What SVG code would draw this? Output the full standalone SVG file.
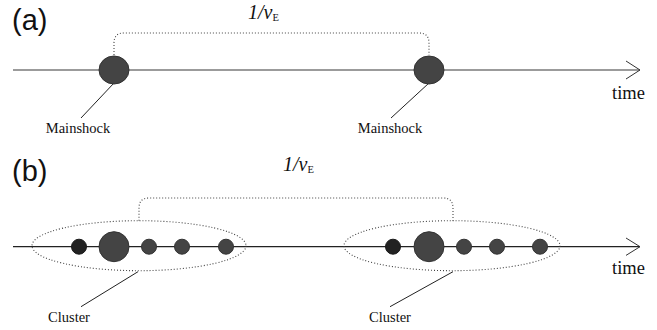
<svg xmlns="http://www.w3.org/2000/svg" width="657" height="330" viewBox="0 0 657 330">
  <style>
    .axis-a { stroke: #7a7a7a; stroke-width: 1.6; fill: none; }
    .axis-b { stroke: #222; stroke-width: 1.3; fill: none; }
    .head { stroke: #333; stroke-width: 1; fill: none; }
    .dots { stroke: #444; stroke-width: 1.1; stroke-dasharray: 1 2; fill: none; }
    .leader { stroke: #222; stroke-width: 1; fill: none; }
    .ev { fill: #444; stroke: #333; stroke-width: 1; }
    .ev-dark { fill: #222; stroke: #1a1a1a; stroke-width: 1; }
    .panel { font-family: "Liberation Sans", Arial, sans-serif; font-size: 29px; fill: #111; }
    .lbl { font-family: "Liberation Serif", "Times New Roman", serif; font-size: 14.5px; fill: #111; }
    .time { font-family: "Liberation Serif", "Times New Roman", serif; font-size: 18.5px; fill: #111; }
    .rate { font-family: "Liberation Serif", "Times New Roman", serif; font-size: 20px; font-style: italic; fill: #111; }
    .sub { font-size: 10.5px; font-style: normal; }
  </style>

  <!-- panel (a): isolated mainshocks -->
  <text class="panel" x="12" y="30">(a)</text>
  <g id="connectors">
    <line class="axis-a" x1="13" y1="70" x2="640" y2="70"/>
    <polyline class="head" points="626,61 640,70 626,79"/>
    <path class="dots" d="M114,55 V43 Q114,33 124,33 H419 Q429,33 429,43 V55"/>
    <line class="leader" x1="114" y1="83" x2="81" y2="118"/>
    <line class="leader" x1="429" y1="83" x2="391" y2="118"/>

    <line class="axis-b" x1="13" y1="246.7" x2="640" y2="246.7"/>
    <polyline class="head" points="626,238 640,246.7 626,255.4"/>
    <path class="dots" d="M139,220.7 V208 Q139,198 149,198 H443 Q453,198 453,208 V220.7"/>
    <line class="leader" x1="138" y1="271.7" x2="81" y2="306.7"/>
    <line class="leader" x1="453" y1="271.7" x2="390" y2="306.7"/>
  </g>
  <text class="rate" x="248" y="19">1/ν<tspan class="sub" dy="2">E</tspan></text>
  <text class="time" x="612" y="99">time</text>

  <g id="mainshock-1">
    <ellipse class="ev" cx="114" cy="70" rx="15" ry="14"/>
    <text class="lbl" x="78" y="133" text-anchor="middle">Mainshock</text>
  </g>
  <g id="mainshock-2">
    <ellipse class="ev" cx="429" cy="70" rx="15" ry="14"/>
    <text class="lbl" x="390" y="133" text-anchor="middle">Mainshock</text>
  </g>

  <!-- panel (b): clustered sequences -->
  <text class="panel" x="12" y="181">(b)</text>
  <text class="rate" x="283" y="171">1/ν<tspan class="sub" dy="2">E</tspan></text>
  <text class="time" x="612" y="274">time</text>

  <g id="cluster-1">
    <ellipse class="dots" cx="139" cy="245.7" rx="107" ry="25"/>
    <circle class="ev-dark" cx="79" cy="246.7" r="7.5"/>
    <circle class="ev" cx="114" cy="246.7" r="15"/>
    <circle class="ev" cx="149" cy="246.7" r="7.5"/>
    <circle class="ev" cx="182" cy="246.7" r="7.5"/>
    <circle class="ev" cx="226" cy="246.7" r="7.5"/>
    <text class="lbl" x="69" y="322" text-anchor="middle">Cluster</text>
  </g>
  <g id="cluster-2">
    <ellipse class="dots" cx="452" cy="245.7" rx="108" ry="25"/>
    <circle class="ev-dark" cx="393" cy="246.7" r="7.5"/>
    <circle class="ev" cx="429" cy="246.7" r="15"/>
    <circle class="ev" cx="464" cy="246.7" r="7.5"/>
    <circle class="ev" cx="497" cy="246.7" r="7.5"/>
    <circle class="ev" cx="540" cy="246.7" r="7.5"/>
    <text class="lbl" x="390" y="322" text-anchor="middle">Cluster</text>
  </g>
</svg>
